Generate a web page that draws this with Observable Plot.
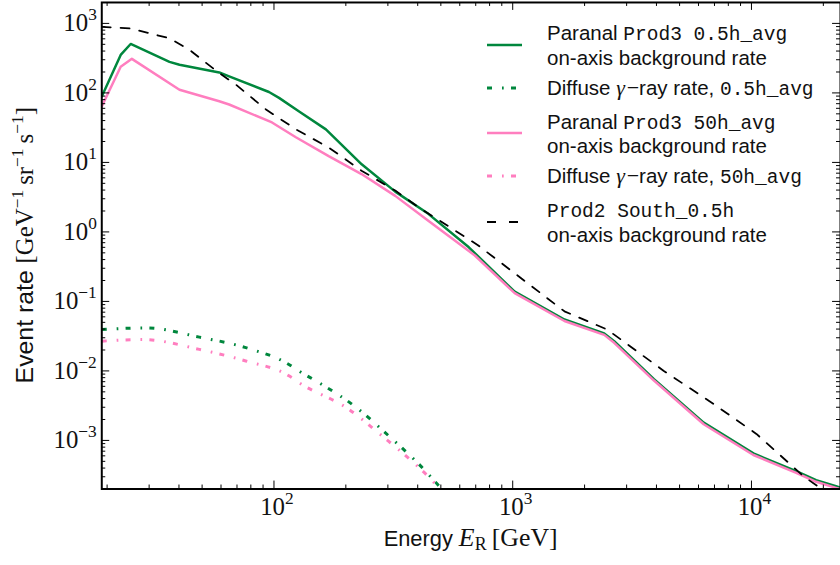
<!DOCTYPE html>
<html><head><meta charset="utf-8">
<script src="https://cdn.jsdelivr.net/npm/d3@7"></script>
<script src="https://cdn.jsdelivr.net/npm/@observablehq/plot@0.6"></script>
<style>
html,body{margin:0;padding:0;background:#fff;}
#wrap{position:relative;width:840px;height:565px;overflow:hidden;background:#fff;}
#legend{position:absolute;left:487px;top:0;font-family:"Liberation Sans",sans-serif;font-size:20.5px;color:#111;}
.row{position:absolute;left:0;display:flex;align-items:center;}
.row svg{width:35px;height:8px;margin-right:25px;flex:none;}
.txt{line-height:23.3px;white-space:nowrap;}
.tt{font-family:"Liberation Mono",monospace;font-size:19.5px;line-height:1;}
.mi{font-family:"Liberation Serif",serif;font-style:italic;font-size:22px;line-height:1;}
.mm{font-family:"Liberation Serif",serif;font-size:22px;line-height:1;}
</style></head><body><div id="wrap"><div id="legend"></div></div>
<script>
// ---- data (Energy in GeV, rate in GeV^-1 sr^-1 s^-1) ----
const prod3_05h_E = [19.0, 22.8, 25.1, 36.5, 40.2, 59.0, 64.9, 95.3, 105, 127, 165, 233, 322, 443, 655, 1019, 1647, 2417, 2661, 3905, 6310, 10190, 15400, 18660, 22600, 23900];
const prod3_05h_R = [88.5, 352, 506, 280, 254, 197, 173, 103, 84.8, 54.6, 29.9, 9.4, 3.8, 1.82, 0.60, 0.138, 0.055, 0.0347, 0.0267, 0.0076, 0.0018, 6.5e-4, 3.6e-4, 2.68e-4, 2.19e-4, 2.05e-4];

const prod3_50h_E = [19.0, 22.8, 25.4, 40.2, 59.0, 64.9, 98.1, 123.5, 169.5, 232.6, 322, 443, 694, 1019, 1647, 2417, 2661, 3905, 6310, 10190, 15400, 18660, 22600, 23900];
const prod3_50h_R = [63.7, 238, 309, 111, 75.9, 68.1, 37.6, 23.0, 12.3, 6.8, 3.30, 1.45, 0.458, 0.1315, 0.0523, 0.0330, 0.0254, 0.00727, 0.00171, 6.17e-4, 3.41e-4, 2.54e-4, 2.08e-4, 1.95e-4];

const diffuse_05h_E = [19.0, 29.2, 48.7, 76.2, 115.5, 127, 154, 219, 301, 415, 487, 540];
const diffuse_05h_R = [0.0393, 0.0416, 0.0306, 0.0216, 0.0124, 0.0100, 0.0068, 0.00306, 0.00118, 4.16e-4, 2.28e-4, 1.5e-4];

const diffuse_50h_E = [19.0, 28.2, 48.7, 76.2, 115.5, 127, 205, 282, 402, 472, 520];
const diffuse_50h_R = [0.0268, 0.0283, 0.0204, 0.0139, 0.0085, 0.0068, 0.00283, 0.00118, 4.16e-4, 2.4e-4, 1.6e-4];

const prod2_E = [19.0, 24.9, 36.5, 44.3, 52.1, 59.0, 69.4, 92.6, 123.5, 169.5, 232.6, 322, 402, 715, 1647, 2489, 4295, 6950, 10490, 16630, 20150];
const prod2_R = [894, 849, 611, 416, 268, 193, 131, 57.7, 29.9, 16.4, 7.59, 3.93, 2.28, 0.644, 0.072, 0.0393, 0.0100, 0.00333, 0.00124, 2.99e-4, 1.9e-4];

const xMajor = [100, 1000, 10000];
const yMajor = [1e-3, 1e-2, 1e-1, 1, 10, 100, 1000];
const xDomain = [19, 23600];
const yDomain = [2e-4, 2000];

const GREEN = "#00873d", PINK = "#ff7ebf", BLACK = "#000";

const toRows = (E, R) => E.map((e, i) => ({E: e, R: R[i]}));

// minor ticks (2..9 x 10^k) inside domain
function minors(dom) {
  const out = [];
  for (let k = -5; k <= 5; k++) for (let m = 2; m <= 9; m++) {
    const v = m * Math.pow(10, k);
    if (v > dom[0] && v < dom[1]) out.push(v);
  }
  return out;
}
const xMinor = minors(xDomain), yMinor = minors(yDomain);

const W = 846, H = 565, ML = 102, MR = 0, MT = 2, MB = 73;
const PW = W - ML - MR, PH = H - MT - MB;
const MAJ = 8, MIN = 4;

const dashDiffuse = "5,10,1.7,7.3";
const dashProd2 = "9,10";

const svg = Plot.plot({
  width: W, height: H,
  marginLeft: ML, marginRight: MR, marginTop: MT, marginBottom: MB,
  x: {type: "log", domain: xDomain},
  y: {type: "log", domain: yDomain},
  marks: [
    Plot.line(toRows(prod3_05h_E, prod3_05h_R), {x: "E", y: "R", stroke: GREEN, strokeWidth: 2.5, clip: true}),
    Plot.line(toRows(diffuse_05h_E, diffuse_05h_R), {x: "E", y: "R", stroke: GREEN, strokeWidth: 3, strokeDasharray: dashDiffuse, strokeLinecap: "butt", curve: "monotone-x", clip: true}),
    Plot.line(toRows(prod3_50h_E, prod3_50h_R), {x: "E", y: "R", stroke: PINK, strokeWidth: 2.5, clip: true}),
    Plot.line(toRows(diffuse_50h_E, diffuse_50h_R), {x: "E", y: "R", stroke: PINK, strokeWidth: 3, strokeDasharray: dashDiffuse, strokeLinecap: "butt", curve: "monotone-x", clip: true}),
    Plot.line(toRows(prod2_E, prod2_R), {x: "E", y: "R", stroke: BLACK, strokeWidth: 1.8, strokeDasharray: dashProd2, clip: true}),
    // inward ticks, all four sides
    Plot.tickX(xMajor, {x: d => d, insetTop: PH - MAJ, stroke: BLACK}),
    Plot.tickX(xMinor, {x: d => d, insetTop: PH - MIN, stroke: BLACK}),
    Plot.tickX(xMajor, {x: d => d, insetBottom: PH - MAJ, stroke: BLACK}),
    Plot.tickX(xMinor, {x: d => d, insetBottom: PH - MIN, stroke: BLACK}),
    Plot.tickY(yMajor, {y: d => d, insetRight: PW - MAJ, stroke: BLACK}),
    Plot.tickY(yMinor, {y: d => d, insetRight: PW - MIN, stroke: BLACK}),
    Plot.tickY(yMajor, {y: d => d, insetLeft: PW - MAJ, stroke: BLACK}),
    Plot.tickY(yMinor, {y: d => d, insetLeft: PW - MIN, stroke: BLACK}),
    Plot.axisX(xMajor, {tickSize: 0, tickPadding: 8, fontSize: 25, fontFamily: "Liberation Serif", label: null, dx: 3,
      tickFormat: d => "10^" + Math.round(Math.log10(d))}),
    Plot.axisY(yMajor, {tickSize: 0, tickPadding: 5, fontSize: 25, fontFamily: "Liberation Serif", label: null,
      tickFormat: d => "10^" + String(Math.round(Math.log10(d))).replace("-", "\u2212")}),
    Plot.frame({stroke: BLACK, strokeWidth: 2})
  ]
});

// superscript tick labels
d3.select(svg).selectAll('g[aria-label="x-axis tick label"] text, g[aria-label="y-axis tick label"] text').each(function() {
  const s = this.textContent;
  const [b, e] = s.split("^");
  const t = d3.select(this);
  t.text(null);
  t.attr("fill", "#111");
  t.append("tspan").text(b);
  t.append("tspan").attr("dy", -11).attr("font-size", 17.5).text(e);
});

// axis labels
const S = d3.select(svg);
const xl = S.append("text").attr("x", ML + PW / 2).attr("y", 550).attr("text-anchor", "middle")
  .attr("font-size", 26).attr("fill", "#111");
xl.append("tspan").attr("font-family", "Liberation Sans").attr("font-size", 22).text("Energy ");
xl.append("tspan").attr("font-family", "Liberation Serif").attr("font-style", "italic").text("E");
xl.append("tspan").attr("font-family", "Liberation Serif").attr("font-size", 18).attr("dy", 4).text("R");
xl.append("tspan").attr("font-family", "Liberation Serif").attr("dy", -4).text("\u2009[GeV]");

const yl = S.append("text").attr("transform", `translate(33,${MT + PH / 2}) rotate(-90)`).attr("text-anchor", "middle")
  .attr("font-size", 25).attr("fill", "#111");
yl.append("tspan").attr("font-family", "Liberation Sans").text("Event rate ");
const ser = (txt, extra) => { const t = yl.append("tspan").attr("font-family", "Liberation Serif").text(txt); if (extra) extra(t); return t; };
ser("[GeV");
ser("\u22121", t => t.attr("font-size", 17.5).attr("dy", -10));
ser("\u2009sr", t => t.attr("dy", 10));
ser("\u22121", t => t.attr("font-size", 17.5).attr("dy", -10));
ser("\u2009s", t => t.attr("dy", 10));
ser("\u22121", t => t.attr("font-size", 17.5).attr("dy", -10));
ser("]", t => t.attr("dy", 10));

const wrap = document.getElementById("wrap");
svg.style.position = "absolute";
svg.style.left = "0px";
svg.style.top = "0px";
wrap.insertBefore(svg, wrap.firstChild);

// legend
const gammaRay = '<span class="mi">γ</span><span class="mm">\u200a\u2212</span>ray rate, ';
const legendItems = [
  {color: GREEN, dash: null, width: 2.5, lines: 2, center: 45, html: 'Paranal <span class="tt">Prod3 0.5h_avg</span><br>on-axis background rate'},
  {color: GREEN, dash: dashDiffuse, width: 3, lines: 1, center: 88.5, html: 'Diffuse ' + gammaRay + '<span class="tt">0.5h_avg</span>'},
  {color: PINK, dash: null, width: 2.5, lines: 2, center: 133.5, html: 'Paranal <span class="tt">Prod3 50h_avg</span><br>on-axis background rate'},
  {color: PINK, dash: dashDiffuse, width: 3, lines: 1, center: 176.5, html: 'Diffuse ' + gammaRay + '<span class="tt">50h_avg</span>'},
  {color: BLACK, dash: "9,13", width: 1.8, lines: 2, center: 222, html: '<span class="tt">Prod2 South_0.5h</span><br>on-axis background rate'}
];
const leg = document.getElementById("legend");
for (const it of legendItems) {
  const row = document.createElement("div");
  row.className = "row";
  row.style.top = (it.center - it.lines * 23.3 / 2) + "px";
  row.style.height = (it.lines * 23.3) + "px";
  row.innerHTML = `<svg viewBox="0 0 35 8"><line x1="0" x2="35" y1="4" y2="4" stroke="${it.color}" stroke-width="${it.width}" ${it.dash ? `stroke-dasharray="${it.dash}"` : ""}/></svg><div class="txt">${it.html}</div>`;
  leg.appendChild(row);
}
</script></body></html>
